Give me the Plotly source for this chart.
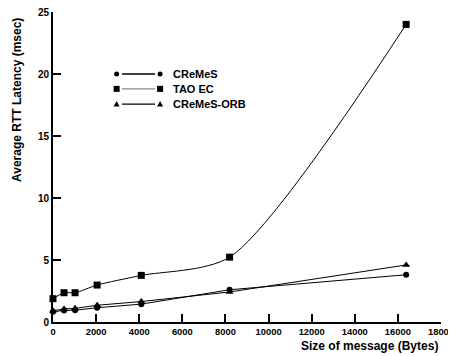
import plotly.graph_objects as go

sizes = [0, 512, 1024, 2048, 4096, 8192, 16384]
cremes = [0.83, 0.93, 0.95, 1.15, 1.44, 2.6, 3.81]
tao_ec = [1.88, 2.36, 2.36, 2.98, 3.76, 5.23, 24.0]
cremes_orb = [0.9, 1.05, 1.1, 1.35, 1.65, 2.42, 4.6]

series_names = ["CReMeS", "TAO EC", "CReMeS-ORB"]
x_ticks = list(range(0, 18001, 2000))
y_ticks = [0, 5, 10, 15, 20, 25]

FONT = "Liberation Sans, Arial, sans-serif"

fig = go.Figure()
fig.add_trace(go.Scatter(x=sizes, y=cremes, name=series_names[0], mode="lines+markers",
                         line=dict(color="black", width=1),
                         marker=dict(symbol="circle", size=6, color="black"),
                         cliponaxis=False))
fig.add_trace(go.Scatter(x=sizes, y=tao_ec, name=series_names[1], mode="lines+markers",
                         line=dict(color="black", width=1, shape="spline", smoothing=0.75),
                         marker=dict(symbol="square", size=7, color="black"),
                         cliponaxis=False))
fig.add_trace(go.Scatter(x=sizes, y=cremes_orb, name=series_names[2], mode="lines+markers",
                         line=dict(color="black", width=1),
                         marker=dict(symbol="triangle-up", size=7, color="black"),
                         cliponaxis=False))

# manual legend (markers at both ends of a short line, as in the reference)
shapes = []
annotations = []
leg_rows = [0.80, 0.752, 0.703]
leg_line_colors = ["black", "#888888", "black"]
mx0, mx1, lx0, lx1, tx = 0.164, 0.276, 0.178, 0.263, 0.304
for i, (yy, name) in enumerate(zip(leg_rows, series_names)):
    shapes.append(dict(type="line", xref="paper", yref="paper", x0=lx0, x1=lx1, y0=yy, y1=yy,
                       line=dict(color=leg_line_colors[i], width=1.3)))
    for mx in (mx0, mx1):
        common = dict(xref="paper", yref="paper", xsizemode="pixel", ysizemode="pixel",
                      xanchor=mx, yanchor=yy, fillcolor="black", line=dict(width=0))
        if i == 0:
            shapes.append(dict(type="circle", x0=-2.5, x1=2.5, y0=-2.5, y1=2.5, **common))
        elif i == 1:
            shapes.append(dict(type="rect", x0=-3, x1=3, y0=-3, y1=3, **common))
        else:
            shapes.append(dict(type="path", path="M -3,-2.5 L 3,-2.5 L 0,3 Z", **common))
    annotations.append(dict(text=name, xref="paper", yref="paper", x=tx, y=yy,
                            xanchor="left", yanchor="middle", showarrow=False,
                            font=dict(size=11, weight="bold")))

annotations += [
    dict(text="Size of message (Bytes)", xref="paper", yref="paper",
         x=0.997, y=-0.077, xanchor="right", yanchor="middle", showarrow=False,
         font=dict(size=12, weight="bold")),
    dict(text="Average RTT Latency (msec)", xref="paper", yref="paper",
         x=-0.093, y=0.716, xanchor="center", yanchor="middle", showarrow=False,
         textangle=-90, font=dict(size=12, weight="bold")),
]

# page body has an 8px margin, so the figure is 8px smaller and left/top margins shifted
fig.update_layout(
    width=448, height=348,
    margin=dict(l=45, r=15, t=4, b=34),
    paper_bgcolor="white", plot_bgcolor="white",
    font=dict(family=FONT, size=10, color="black", weight="bold"),
    showlegend=False,
    xaxis=dict(range=[0, 18000], tickvals=x_ticks, ticktext=[str(v) for v in x_ticks],
               showgrid=False, zeroline=False, showline=True, linecolor="black", linewidth=2,
               ticks="inside", ticklen=8, tickwidth=2, tickcolor="black", automargin=False,
               ticklabeloverflow="allow", tickfont=dict(size=9.4, weight="bold")),
    yaxis=dict(range=[0, 25], tickvals=y_ticks, ticktext=[str(v) for v in y_ticks],
               showgrid=False, zeroline=False, showline=True, linecolor="black", linewidth=2,
               ticks="inside", ticklen=8, tickwidth=2, tickcolor="black", automargin=False,
               ticklabeloverflow="allow", tickfont=dict(size=10, weight="bold")),
    shapes=shapes,
    annotations=annotations,
)

fig.write_html("out.html")
